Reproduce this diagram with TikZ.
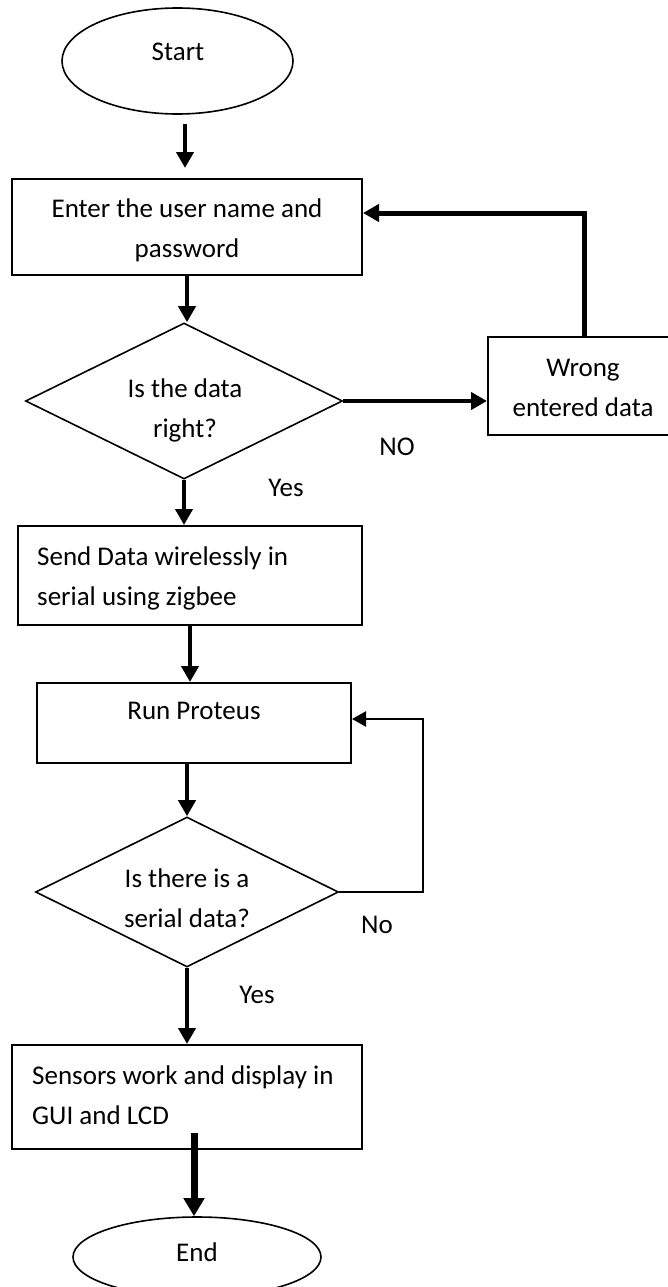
\documentclass[tikz,border=0pt]{standalone}
\usepackage{fontspec}
\setmainfont{Carlito}
\usetikzlibrary{arrows.meta,shapes.geometric}
\begin{document}
\begin{tikzpicture}[x=1pt,y=-1pt,
  txt/.style={font=\fontsize{27}{40}\selectfont, inner sep=0pt},
  procbox/.style={draw, line width=2pt, rectangle, inner sep=0pt},
  termin/.style={draw, ellipse, line width=1.6pt, inner sep=0pt},
  decide/.style={draw, diamond, line width=1.6pt, inner sep=0pt, aspect=2},
  arr/.style={line width=4.5pt, -{Triangle[length=16pt,width=17pt]}},
  thinarr/.style={line width=2.5pt, -{Triangle[length=14pt,width=15pt]}},
  fatarr/.style={line width=7pt, -{Triangle[length=18pt,width=20pt]}}
]
\useasboundingbox (0,0) rectangle (667,1287);
% shapes
\node[termin, minimum width=231pt, minimum height=106pt] (start) at (177.5,61) {};
\node[procbox, minimum width=350pt, minimum height=96pt] (b1) at (187,227) {};
\node[decide, minimum width=317pt, minimum height=156pt] (d1) at (184,401) {};
\node[procbox, minimum width=190pt, minimum height=98pt] (wrong) at (583,386) {};
\node[procbox, minimum width=344pt, minimum height=99pt] (b2) at (190,575.5) {};
\node[procbox, minimum width=314pt, minimum height=80pt] (b3) at (194,723) {};
\node[decide, minimum width=303pt, minimum height=150pt] (d2) at (187,892) {};
\node[procbox, minimum width=350pt, minimum height=104pt] (b4) at (187,1097) {};
\node[termin, minimum width=248pt, minimum height=80pt] (end) at (197,1257) {};
% texts
\node[txt] (tstart) at (178,52) {Start};
\node[txt, align=center] (tb1) at (187,230) {Enter the user name and\\password};
\node[txt, align=center] (td1) at (185,410) {Is the data\\right?};
\node[txt, align=center] (twrong) at (583,388) {Wrong\\entered data};
\node[txt, align=left, anchor=west] (tb2) at (37,578) {Send Data wirelessly in\\serial using zigbee};
\node[txt] (tb3) at (194,711) {Run Proteus};
\node[txt, align=center] (td2) at (187,898) {Is there is a\\serial data?};
\node[txt, align=left, anchor=west] (tb4) at (32,1095) {Sensors work and display in\\GUI and LCD};
\node[txt] (tend) at (197,1252) {End};
\node[txt] (lno1) at (397,447) {NO};
\node[txt] (lyes1) at (286,488) {Yes};
\node[txt] (lno2) at (377,925) {No};
\node[txt] (lyes2) at (257,995) {Yes};
% coordinates for bends and free ends
\coordinate (fb1) at (584,213);
\coordinate (fb2) at (423,719);
\coordinate (a1s) at (185,124);
\coordinate (a1e) at (185,168);
\coordinate (a6s) at (194,1133);
% connectors
\draw[arr] (a1s) -- (a1e);
\draw[arr] (b1.south) -- (b1.south |- d1.north);
\draw[arr] (d1.east) -- (d1.east -| wrong.west);
\draw[line width=5pt, -{Triangle[length=16pt,width=17pt]}] (wrong.north -| fb1) -- (fb1) -- (fb1 -| b1.east);
\draw[arr] (d1.south) -- (d1.south |- b2.north);
\draw[arr] (b2.south) -- (b2.south |- b3.north);
\draw[arr] (d2.north |- b3.south) -- (d2.north);
\draw[thinarr] (d2.east) -- (d2.east -| fb2) -- (fb2) -- (fb2 -| b3.east);
\draw[arr] (d2.south) -- (d2.south |- b4.north);
\draw[fatarr] (a6s) -- (a6s |- end.north);
\end{tikzpicture}
\end{document}
